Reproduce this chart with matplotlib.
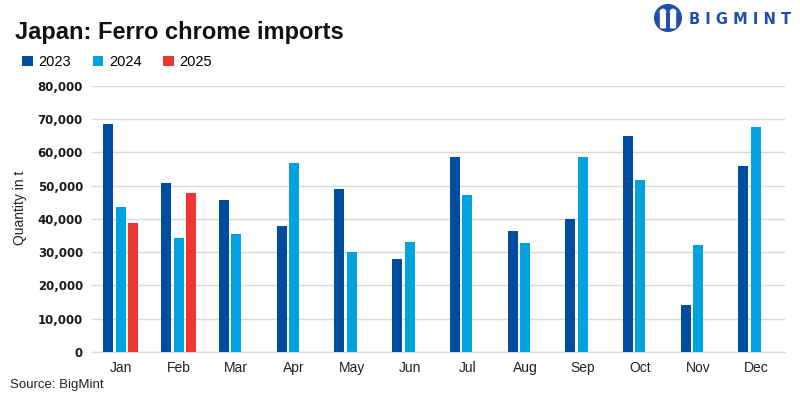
# Japan ferro chrome imports - grouped bar chart
import matplotlib.pyplot as plt
import numpy as np
from matplotlib.patches import Patch, Circle, FancyBboxPatch

months = ['Jan', 'Feb', 'Mar', 'Apr', 'May', 'Jun',
          'Jul', 'Aug', 'Sep', 'Oct', 'Nov', 'Dec']
imports_2023 = [68600, 50800, 45700, 37900, 49000, 27900,
                58600, 36300, 40000, 65000, 14100, 55900]
imports_2024 = [43600, 34200, 35400, 56800, 30000, 33000,
                47200, 32700, 58600, 51800, 32200, 67700]
imports_2025 = [38800, 47800]
years = ['2023', '2024', '2025']

c23, c24, c25 = '#004C9F', '#00A3E0', '#EE3733'

fig = plt.figure(figsize=(8, 3.99), dpi=100)
ax = fig.add_axes([0.115, 0.1185, 0.866, 0.666])

x = np.arange(len(months))
w = 0.173
off = 0.216
ax.bar(x - off, imports_2023, w, color=c23, zorder=3)
ax.bar(x, imports_2024, w, color=c24, zorder=3)
ax.bar(x[:len(imports_2025)] + off, imports_2025, w, color=c25, zorder=3)

ax.set_xlim(-0.5, 11.5)
ax.set_ylim(0, 80000)
ax.set_yticks(np.arange(0, 80001, 10000))
ax.set_yticklabels([f'{v:,}' for v in range(0, 80001, 10000)],
                   fontweight='bold', fontsize=8.5, color='#1a1a1a')
ax.set_xticks(x)
ax.set_xticklabels(months, family='Liberation Sans', fontsize=10, color='#222222')
ax.tick_params(axis='both', length=0)
ax.tick_params(axis='y', pad=6.5)
ax.tick_params(axis='x', pad=7)

ax.grid(axis='y', color='#d9d9d9', linewidth=1, zorder=0)
for s in ['top', 'right', 'left']:
    ax.spines[s].set_visible(False)
ax.spines['bottom'].set_color('#d9d9d9')
ax.spines['bottom'].set_linewidth(1)

# y label
fig.text(20 / 800, 1 - 208 / 399, 'Quantity in t', rotation=90,
         ha='center', va='center', family='Liberation Sans', fontsize=10,
         color='#222222')

# title and source
fig.text(15 / 800, 1 - 39 / 399, 'Japan: Ferro chrome imports',
         family='Liberation Sans', fontweight='bold', fontsize=17,
         va='baseline', color='#111111')
fig.text(10 / 800, 1 - 388 / 399, 'Source: BigMint',
         family='Liberation Sans', fontsize=9.5, va='baseline', color='#222222')

# legend
handles = [Patch(facecolor=c, edgecolor='none') for c in (c23, c24, c25)]
fig.legend(handles, years, loc='center left', bbox_to_anchor=(15 / 800, 1 - 62 / 399),
           ncol=3, frameon=False, borderpad=0, handlelength=0.7, handleheight=0.7,
           handletextpad=0.4, columnspacing=1.5,
           prop={'family': 'Liberation Sans', 'size': 10.5})

# logo
fig.text(689 / 800, 1 - 19 / 399, 'B I G M I N T', color='#1F4FA8',
         fontweight='bold', fontsize=10.5, va='center', ha='left')
lax = fig.add_axes([654 / 800, 1 - 32 / 399, 28 / 800, 28 / 399])
lax.set_xlim(-1.05, 1.05)
lax.set_ylim(-1.05, 1.05)
lax.set_aspect('equal')
lax.axis('off')
lax.add_patch(Circle((0, 0), 1, color='#1F4FA8'))
for cx in (-0.38, 0.38):
    lax.add_patch(Circle((cx, 0.45), 0.2, color='white'))
    lax.add_patch(FancyBboxPatch((cx - 0.15, -0.7), 0.3, 0.95,
                                 boxstyle='round,pad=0.03', color='white'))

fig.savefig('out.png', dpi=100)
